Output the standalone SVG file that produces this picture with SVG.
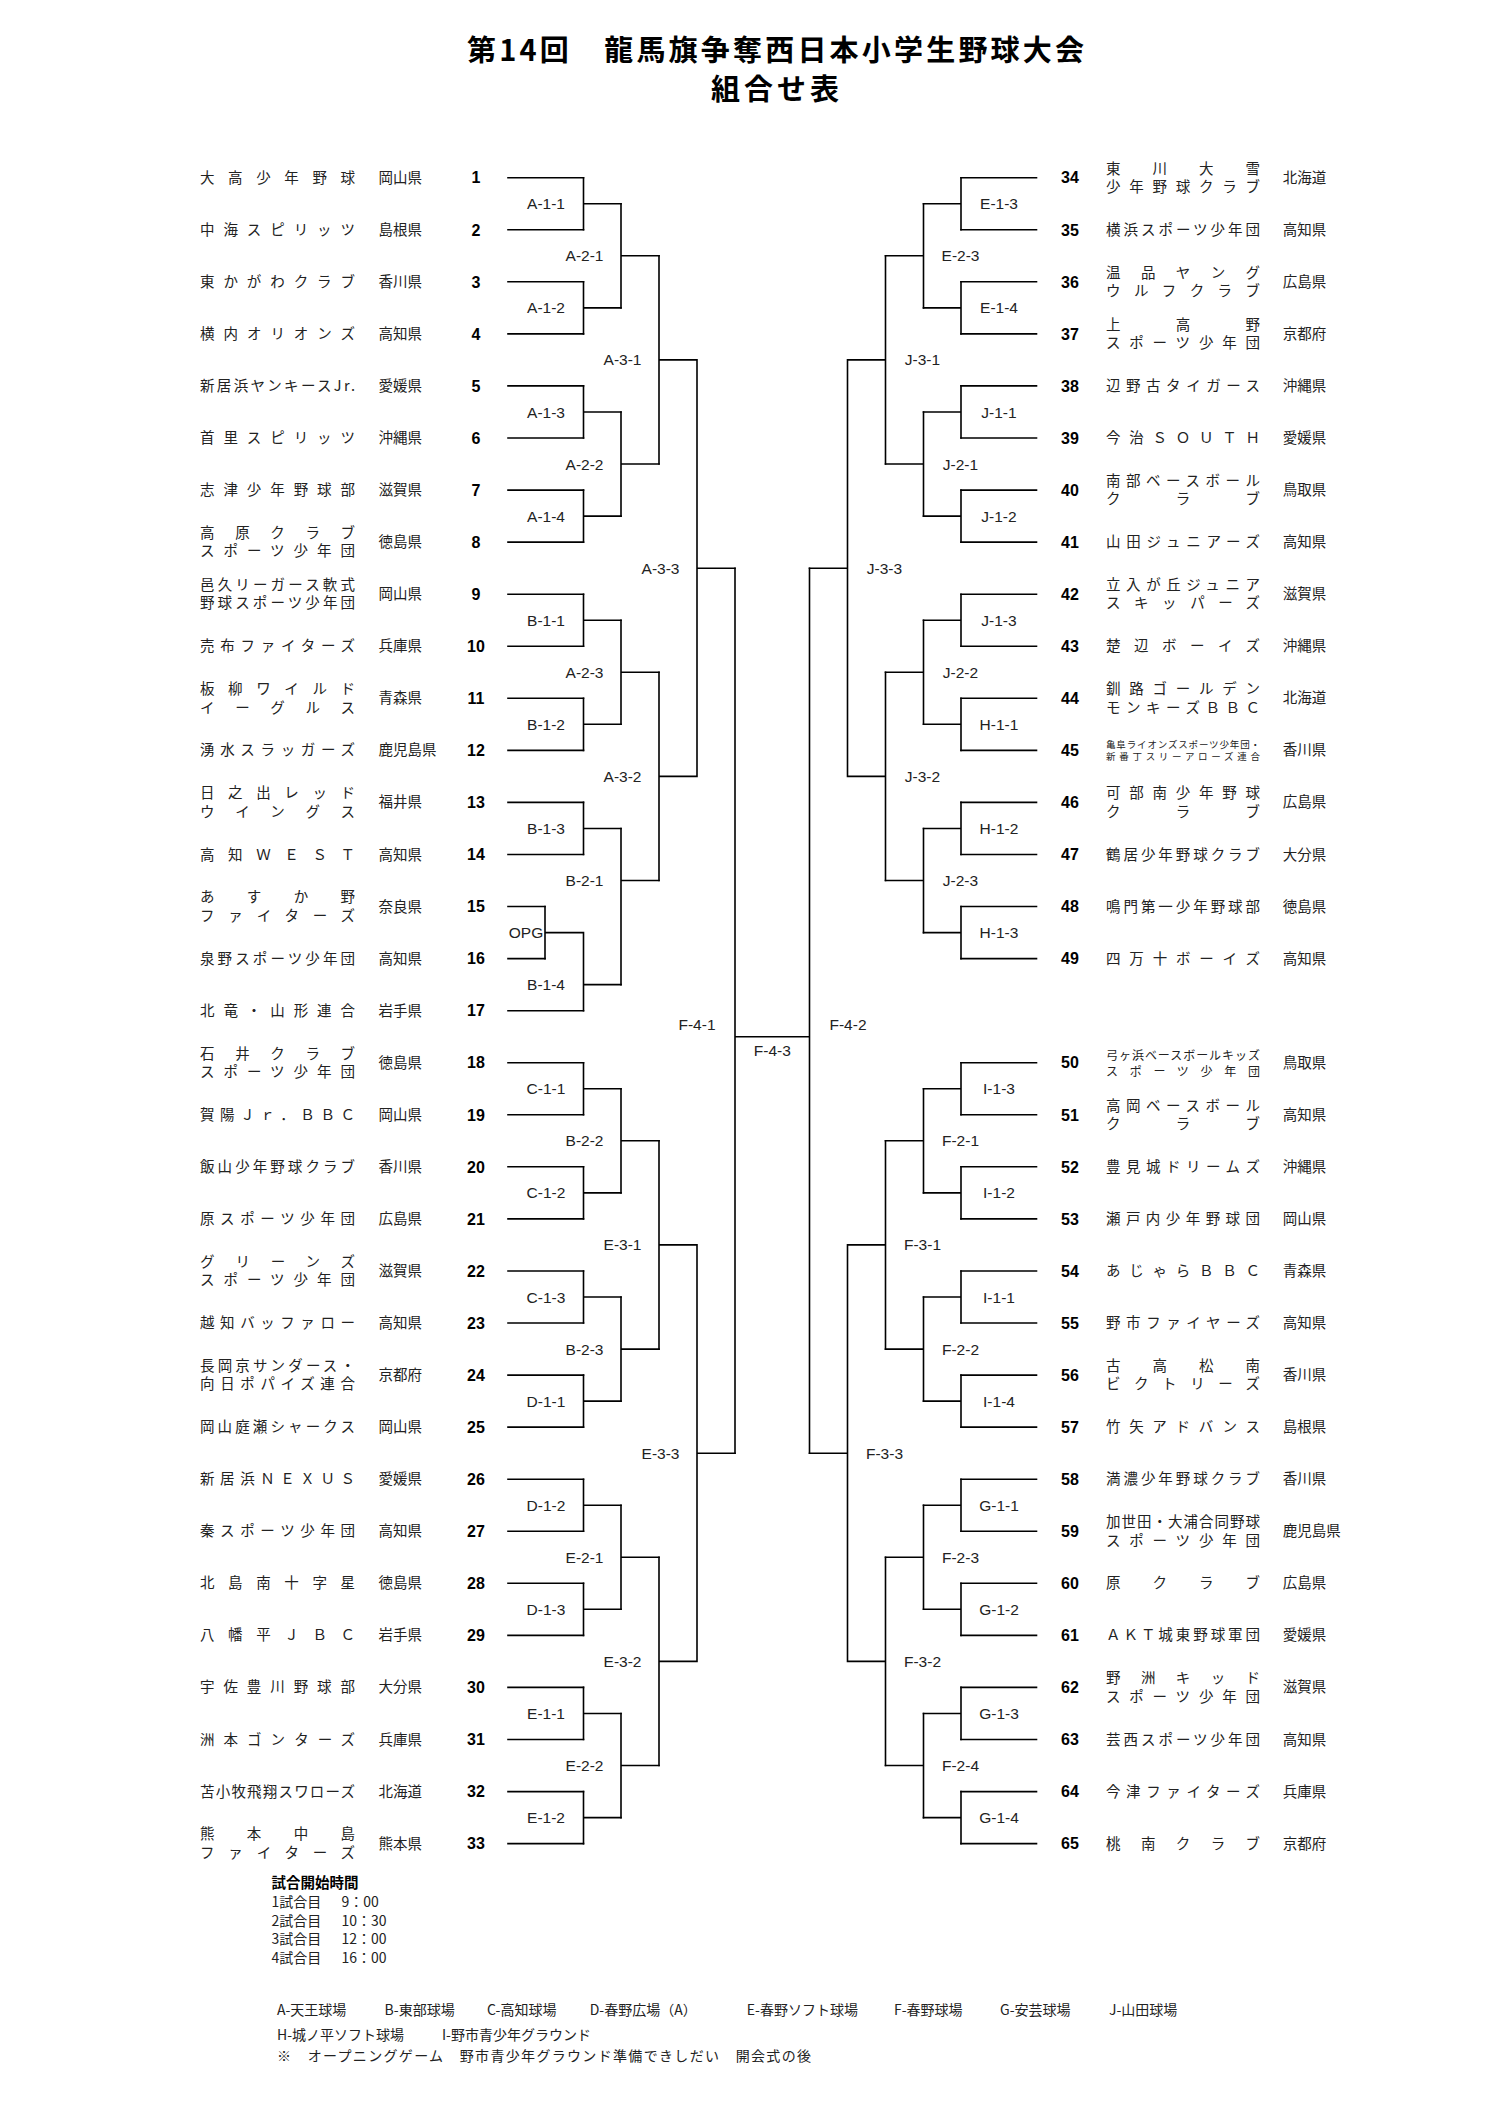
<svg xmlns="http://www.w3.org/2000/svg" width="1497" height="2117" viewBox="0 0 1497 2117">
<style>
.bg{fill:#fff}
.ln{fill:none;stroke:#000;stroke-width:1.6;stroke-linecap:square}
.tt{font-family:"Noto Sans CJK JP",sans-serif;font-weight:bold;font-size:29px;fill:#000}
.nm{font-family:"Noto Sans CJK JP",sans-serif;font-size:14.5px;fill:#222}
.sm{font-family:"Noto Sans CJK JP",sans-serif;font-size:9.5px;fill:#222}
.md{font-family:"Noto Sans CJK JP",sans-serif;font-size:12px;fill:#222}
.pf{font-family:"Noto Sans CJK JP",sans-serif;font-size:14.5px;fill:#222}
.no{font-family:"Liberation Sans",sans-serif;font-weight:bold;font-size:16px;fill:#000;text-anchor:middle}
.lb{font-family:"Liberation Sans",sans-serif;font-size:15.5px;fill:#222;text-anchor:middle}
.ft{font-family:"Noto Sans CJK JP",sans-serif;font-size:14px;fill:#222}
.fb{font-family:"Noto Sans CJK JP",sans-serif;font-size:14.5px;font-weight:bold;fill:#000}
</style>
<rect class="bg" x="0" y="0" width="1497" height="2117"/>
<g id="title">
<text class="tt" x="467" y="61" textLength="617" lengthAdjust="spacing">第14回　龍馬旗争奪西日本小学生野球大会</text>
<text class="tt" x="711" y="100" textLength="128" lengthAdjust="spacing">組合せ表</text>
</g>
<g id="connectors">
<path class="ln" d="M508 177.7H583.5M508 229.8H583.5M508 281.8H583.5M508 333.9H583.5M508 385.9H583.5M508 438H583.5M508 490.1H583.5M508 542.1H583.5M508 594.2H583.5M508 646.2H583.5M508 698.3H583.5M508 750.4H583.5M508 802.4H583.5M508 854.5H583.5M508 906.5H545M508 958.6H545M508 1010.7H583.5M508 1062.7H583.5M508 1114.8H583.5M508 1166.8H583.5M508 1218.9H583.5M508 1271H583.5M508 1323H583.5M508 1375.1H583.5M508 1427.1H583.5M508 1479.2H583.5M508 1531.3H583.5M508 1583.3H583.5M508 1635.4H583.5M508 1687.4H583.5M508 1739.5H583.5M508 1791.6H583.5M508 1843.6H583.5"/>
<path class="ln" d="M583.5 177.7V229.8M583.5 203.7H621M583.5 281.8V333.9M583.5 307.9H621M583.5 385.9V438M583.5 412H621M583.5 490.1V542.1M583.5 516.1H621M583.5 594.2V646.2M583.5 620.2H621M583.5 698.3V750.4M583.5 724.3H621M583.5 802.4V854.5M583.5 828.5H621M545 906.5V958.6M545 932.6H583.5M583.5 932.6V1010.7M583.5 984.6H621M583.5 1062.7V1114.8M583.5 1088.8H621M583.5 1166.8V1218.9M583.5 1192.9H621M583.5 1271V1323M583.5 1297H621M583.5 1375.1V1427.1M583.5 1401.1H621M583.5 1479.2V1531.3M583.5 1505.2H621M583.5 1583.3V1635.4M583.5 1609.3H621M583.5 1687.4V1739.5M583.5 1713.5H621M583.5 1791.6V1843.6M583.5 1817.6H621"/>
<path class="ln" d="M621 203.7V307.9M621 255.8H659M621 412V516.1M621 464H659M621 620.2V724.3M621 672.3H659M621 828.5V984.6M621 880.5H659M621 1088.8V1192.9M621 1140.8H659M621 1297V1401.1M621 1349.1H659M621 1505.2V1609.3M621 1557.3H659M621 1713.5V1817.6M621 1765.5H659"/>
<path class="ln" d="M659 255.8V464M659 359.9H697M659 672.3V880.5M659 776.4H697M659 1140.8V1349.1M659 1244.9H697M659 1557.3V1765.5M659 1661.4H697M697 359.9V776.4M697 568.2H735M697 1244.9V1661.4M697 1453.2H735"/>
<path class="ln" d="M735 568.2V1453.2M735 1036.7H809.5M809.5 568.2V1453.2"/>
<path class="ln" d="M961 177.7H1036.5M961 229.8H1036.5M961 281.8H1036.5M961 333.9H1036.5M961 385.9H1036.5M961 438H1036.5M961 490.1H1036.5M961 542.1H1036.5M961 594.2H1036.5M961 646.2H1036.5M961 698.3H1036.5M961 750.4H1036.5M961 802.4H1036.5M961 854.5H1036.5M961 906.5H1036.5M961 958.6H1036.5M961 1062.7H1036.5M961 1114.8H1036.5M961 1166.8H1036.5M961 1218.9H1036.5M961 1271H1036.5M961 1323H1036.5M961 1375.1H1036.5M961 1427.1H1036.5M961 1479.2H1036.5M961 1531.3H1036.5M961 1583.3H1036.5M961 1635.4H1036.5M961 1687.4H1036.5M961 1739.5H1036.5M961 1791.6H1036.5M961 1843.6H1036.5"/>
<path class="ln" d="M961 177.7V229.8M961 203.7H923.5M961 281.8V333.9M961 307.9H923.5M961 385.9V438M961 412H923.5M961 490.1V542.1M961 516.1H923.5M961 594.2V646.2M961 620.2H923.5M961 698.3V750.4M961 724.3H923.5M961 802.4V854.5M961 828.5H923.5M961 906.5V958.6M961 932.6H923.5M961 1062.7V1114.8M961 1088.8H923.5M961 1166.8V1218.9M961 1192.9H923.5M961 1271V1323M961 1297H923.5M961 1375.1V1427.1M961 1401.1H923.5M961 1479.2V1531.3M961 1505.2H923.5M961 1583.3V1635.4M961 1609.3H923.5M961 1687.4V1739.5M961 1713.5H923.5M961 1791.6V1843.6M961 1817.6H923.5"/>
<path class="ln" d="M923.5 203.7V307.9M923.5 255.8H885.5M923.5 412V516.1M923.5 464H885.5M923.5 620.2V724.3M923.5 672.3H885.5M923.5 828.5V932.6M923.5 880.5H885.5M923.5 1088.8V1192.9M923.5 1140.8H885.5M923.5 1297V1401.1M923.5 1349.1H885.5M923.5 1505.2V1609.3M923.5 1557.3H885.5M923.5 1713.5V1817.6M923.5 1765.5H885.5"/>
<path class="ln" d="M885.5 255.8V464M885.5 359.9H847.5M885.5 672.3V880.5M885.5 776.4H847.5M885.5 1140.8V1349.1M885.5 1244.9H847.5M885.5 1557.3V1765.5M885.5 1661.4H847.5M847.5 359.9V776.4M847.5 568.2H809.5M847.5 1244.9V1661.4M847.5 1453.2H809.5"/>
</g>
<g id="match-labels">
<text class="lb" x="546" y="209.2">A-1-1</text>
<text class="lb" x="546" y="313.4">A-1-2</text>
<text class="lb" x="546" y="417.5">A-1-3</text>
<text class="lb" x="546" y="521.6">A-1-4</text>
<text class="lb" x="546" y="625.7">B-1-1</text>
<text class="lb" x="546" y="729.8">B-1-2</text>
<text class="lb" x="546" y="834">B-1-3</text>
<text class="lb" x="526" y="938.1">OPG</text>
<text class="lb" x="546" y="990.1">B-1-4</text>
<text class="lb" x="546" y="1094.3">C-1-1</text>
<text class="lb" x="546" y="1198.4">C-1-2</text>
<text class="lb" x="546" y="1302.5">C-1-3</text>
<text class="lb" x="546" y="1406.6">D-1-1</text>
<text class="lb" x="546" y="1510.7">D-1-2</text>
<text class="lb" x="546" y="1614.8">D-1-3</text>
<text class="lb" x="546" y="1719">E-1-1</text>
<text class="lb" x="546" y="1823.1">E-1-2</text>
<text class="lb" x="584.5" y="261.3">A-2-1</text>
<text class="lb" x="584.5" y="469.5">A-2-2</text>
<text class="lb" x="584.5" y="677.8">A-2-3</text>
<text class="lb" x="584.5" y="886">B-2-1</text>
<text class="lb" x="584.5" y="1146.3">B-2-2</text>
<text class="lb" x="584.5" y="1354.6">B-2-3</text>
<text class="lb" x="584.5" y="1562.8">E-2-1</text>
<text class="lb" x="584.5" y="1771">E-2-2</text>
<text class="lb" x="622.5" y="365.4">A-3-1</text>
<text class="lb" x="622.5" y="781.9">A-3-2</text>
<text class="lb" x="622.5" y="1250.4">E-3-1</text>
<text class="lb" x="622.5" y="1666.9">E-3-2</text>
<text class="lb" x="660.5" y="573.7">A-3-3</text>
<text class="lb" x="660.5" y="1458.7">E-3-3</text>
<text class="lb" x="697" y="1029.5">F-4-1</text>
<text class="lb" x="772.3" y="1055.5">F-4-3</text>
<text class="lb" x="848" y="1029.5">F-4-2</text>
<text class="lb" x="884.5" y="573.7">J-3-3</text>
<text class="lb" x="884.5" y="1458.7">F-3-3</text>
<text class="lb" x="922.5" y="365.4">J-3-1</text>
<text class="lb" x="922.5" y="781.9">J-3-2</text>
<text class="lb" x="922.5" y="1250.4">F-3-1</text>
<text class="lb" x="922.5" y="1666.9">F-3-2</text>
<text class="lb" x="960.5" y="261.3">E-2-3</text>
<text class="lb" x="960.5" y="469.5">J-2-1</text>
<text class="lb" x="960.5" y="677.8">J-2-2</text>
<text class="lb" x="960.5" y="886">J-2-3</text>
<text class="lb" x="960.5" y="1146.3">F-2-1</text>
<text class="lb" x="960.5" y="1354.6">F-2-2</text>
<text class="lb" x="960.5" y="1562.8">F-2-3</text>
<text class="lb" x="960.5" y="1771">F-2-4</text>
<text class="lb" x="999" y="209.2">E-1-3</text>
<text class="lb" x="999" y="313.4">E-1-4</text>
<text class="lb" x="999" y="417.5">J-1-1</text>
<text class="lb" x="999" y="521.6">J-1-2</text>
<text class="lb" x="999" y="625.7">J-1-3</text>
<text class="lb" x="999" y="729.8">H-1-1</text>
<text class="lb" x="999" y="834">H-1-2</text>
<text class="lb" x="999" y="938.1">H-1-3</text>
<text class="lb" x="999" y="1094.3">I-1-3</text>
<text class="lb" x="999" y="1198.4">I-1-2</text>
<text class="lb" x="999" y="1302.5">I-1-1</text>
<text class="lb" x="999" y="1406.6">I-1-4</text>
<text class="lb" x="999" y="1510.7">G-1-1</text>
<text class="lb" x="999" y="1614.8">G-1-2</text>
<text class="lb" x="999" y="1719">G-1-3</text>
<text class="lb" x="999" y="1823.1">G-1-4</text>
</g>
<g id="t1"><text class="nm" x="200" y="182.7" textLength="155" lengthAdjust="spacing">大高少年野球</text><text class="pf" x="378.5" y="182.7">岡山県</text><text class="no" x="476" y="183.4">1</text></g>
<g id="t2"><text class="nm" x="200" y="234.8" textLength="155" lengthAdjust="spacing">中海スピリッツ</text><text class="pf" x="378.5" y="234.8">島根県</text><text class="no" x="476" y="235.5">2</text></g>
<g id="t3"><text class="nm" x="200" y="286.8" textLength="155" lengthAdjust="spacing">東かがわクラブ</text><text class="pf" x="378.5" y="286.8">香川県</text><text class="no" x="476" y="287.5">3</text></g>
<g id="t4"><text class="nm" x="200" y="338.9" textLength="155" lengthAdjust="spacing">横内オリオンズ</text><text class="pf" x="378.5" y="338.9">高知県</text><text class="no" x="476" y="339.6">4</text></g>
<g id="t5"><text class="nm" x="200" y="390.9" textLength="155" lengthAdjust="spacing">新居浜ヤンキースJr.</text><text class="pf" x="378.5" y="390.9">愛媛県</text><text class="no" x="476" y="391.6">5</text></g>
<g id="t6"><text class="nm" x="200" y="443" textLength="155" lengthAdjust="spacing">首里スピリッツ</text><text class="pf" x="378.5" y="443">沖縄県</text><text class="no" x="476" y="443.7">6</text></g>
<g id="t7"><text class="nm" x="200" y="495.1" textLength="155" lengthAdjust="spacing">志津少年野球部</text><text class="pf" x="378.5" y="495.1">滋賀県</text><text class="no" x="476" y="495.8">7</text></g>
<g id="t8"><text class="nm" x="200" y="537.9" textLength="155" lengthAdjust="spacing">高原クラブ</text><text class="nm" x="200" y="556.3" textLength="155" lengthAdjust="spacing">スポーツ少年団</text><text class="pf" x="378.5" y="547.1">徳島県</text><text class="no" x="476" y="547.8">8</text></g>
<g id="t9"><text class="nm" x="200" y="590" textLength="155" lengthAdjust="spacing">邑久リーガース軟式</text><text class="nm" x="200" y="608.4" textLength="155" lengthAdjust="spacing">野球スポーツ少年団</text><text class="pf" x="378.5" y="599.2">岡山県</text><text class="no" x="476" y="599.9">9</text></g>
<g id="t10"><text class="nm" x="200" y="651.2" textLength="155" lengthAdjust="spacing">売布ファイターズ</text><text class="pf" x="378.5" y="651.2">兵庫県</text><text class="no" x="476" y="651.9">10</text></g>
<g id="t11"><text class="nm" x="200" y="694.1" textLength="155" lengthAdjust="spacing">板柳ワイルド</text><text class="nm" x="200" y="712.5" textLength="155" lengthAdjust="spacing">イーグルス</text><text class="pf" x="378.5" y="703.3">青森県</text><text class="no" x="476" y="704">11</text></g>
<g id="t12"><text class="nm" x="200" y="755.4" textLength="155" lengthAdjust="spacing">湧水スラッガーズ</text><text class="pf" x="378.5" y="755.4">鹿児島県</text><text class="no" x="476" y="756.1">12</text></g>
<g id="t13"><text class="nm" x="200" y="798.2" textLength="155" lengthAdjust="spacing">日之出レッド</text><text class="nm" x="200" y="816.6" textLength="155" lengthAdjust="spacing">ウイングス</text><text class="pf" x="378.5" y="807.4">福井県</text><text class="no" x="476" y="808.1">13</text></g>
<g id="t14"><text class="nm" x="200" y="859.5" textLength="155" lengthAdjust="spacing">高知ＷＥＳＴ</text><text class="pf" x="378.5" y="859.5">高知県</text><text class="no" x="476" y="860.2">14</text></g>
<g id="t15"><text class="nm" x="200" y="902.3" textLength="155" lengthAdjust="spacing">あすか野</text><text class="nm" x="200" y="920.7" textLength="155" lengthAdjust="spacing">ファイターズ</text><text class="pf" x="378.5" y="911.5">奈良県</text><text class="no" x="476" y="912.2">15</text></g>
<g id="t16"><text class="nm" x="200" y="963.6" textLength="155" lengthAdjust="spacing">泉野スポーツ少年団</text><text class="pf" x="378.5" y="963.6">高知県</text><text class="no" x="476" y="964.3">16</text></g>
<g id="t17"><text class="nm" x="200" y="1015.7" textLength="155" lengthAdjust="spacing">北竜・山形連合</text><text class="pf" x="378.5" y="1015.7">岩手県</text><text class="no" x="476" y="1016.4">17</text></g>
<g id="t18"><text class="nm" x="200" y="1058.5" textLength="155" lengthAdjust="spacing">石井クラブ</text><text class="nm" x="200" y="1076.9" textLength="155" lengthAdjust="spacing">スポーツ少年団</text><text class="pf" x="378.5" y="1067.7">徳島県</text><text class="no" x="476" y="1068.4">18</text></g>
<g id="t19"><text class="nm" x="200" y="1119.8" textLength="155" lengthAdjust="spacing">賀陽Ｊｒ．ＢＢＣ</text><text class="pf" x="378.5" y="1119.8">岡山県</text><text class="no" x="476" y="1120.5">19</text></g>
<g id="t20"><text class="nm" x="200" y="1171.8" textLength="155" lengthAdjust="spacing">飯山少年野球クラブ</text><text class="pf" x="378.5" y="1171.8">香川県</text><text class="no" x="476" y="1172.5">20</text></g>
<g id="t21"><text class="nm" x="200" y="1223.9" textLength="155" lengthAdjust="spacing">原スポーツ少年団</text><text class="pf" x="378.5" y="1223.9">広島県</text><text class="no" x="476" y="1224.6">21</text></g>
<g id="t22"><text class="nm" x="200" y="1266.8" textLength="155" lengthAdjust="spacing">グリーンズ</text><text class="nm" x="200" y="1285.2" textLength="155" lengthAdjust="spacing">スポーツ少年団</text><text class="pf" x="378.5" y="1276">滋賀県</text><text class="no" x="476" y="1276.7">22</text></g>
<g id="t23"><text class="nm" x="200" y="1328" textLength="155" lengthAdjust="spacing">越知バッファロー</text><text class="pf" x="378.5" y="1328">高知県</text><text class="no" x="476" y="1328.7">23</text></g>
<g id="t24"><text class="nm" x="200" y="1370.9" textLength="155" lengthAdjust="spacing">長岡京サンダース・</text><text class="nm" x="200" y="1389.3" textLength="155" lengthAdjust="spacing">向日ポパイズ連合</text><text class="pf" x="378.5" y="1380.1">京都府</text><text class="no" x="476" y="1380.8">24</text></g>
<g id="t25"><text class="nm" x="200" y="1432.1" textLength="155" lengthAdjust="spacing">岡山庭瀬シャークス</text><text class="pf" x="378.5" y="1432.1">岡山県</text><text class="no" x="476" y="1432.8">25</text></g>
<g id="t26"><text class="nm" x="200" y="1484.2" textLength="155" lengthAdjust="spacing">新居浜ＮＥＸＵＳ</text><text class="pf" x="378.5" y="1484.2">愛媛県</text><text class="no" x="476" y="1484.9">26</text></g>
<g id="t27"><text class="nm" x="200" y="1536.3" textLength="155" lengthAdjust="spacing">秦スポーツ少年団</text><text class="pf" x="378.5" y="1536.3">高知県</text><text class="no" x="476" y="1537">27</text></g>
<g id="t28"><text class="nm" x="200" y="1588.3" textLength="155" lengthAdjust="spacing">北島南十字星</text><text class="pf" x="378.5" y="1588.3">徳島県</text><text class="no" x="476" y="1589">28</text></g>
<g id="t29"><text class="nm" x="200" y="1640.4" textLength="155" lengthAdjust="spacing">八幡平ＪＢＣ</text><text class="pf" x="378.5" y="1640.4">岩手県</text><text class="no" x="476" y="1641.1">29</text></g>
<g id="t30"><text class="nm" x="200" y="1692.4" textLength="155" lengthAdjust="spacing">宇佐豊川野球部</text><text class="pf" x="378.5" y="1692.4">大分県</text><text class="no" x="476" y="1693.1">30</text></g>
<g id="t31"><text class="nm" x="200" y="1744.5" textLength="155" lengthAdjust="spacing">洲本ゴンターズ</text><text class="pf" x="378.5" y="1744.5">兵庫県</text><text class="no" x="476" y="1745.2">31</text></g>
<g id="t32"><text class="nm" x="200" y="1796.6" textLength="155" lengthAdjust="spacing">苫小牧飛翔スワローズ</text><text class="pf" x="378.5" y="1796.6">北海道</text><text class="no" x="476" y="1797.3">32</text></g>
<g id="t33"><text class="nm" x="200" y="1839.4" textLength="155" lengthAdjust="spacing">熊本中島</text><text class="nm" x="200" y="1857.8" textLength="155" lengthAdjust="spacing">ファイターズ</text><text class="pf" x="378.5" y="1848.6">熊本県</text><text class="no" x="476" y="1849.3">33</text></g>
<g id="t34"><text class="no" x="1070" y="183.4">34</text><text class="nm" x="1106" y="173.5" textLength="154" lengthAdjust="spacing">東川大雪</text><text class="nm" x="1106" y="191.9" textLength="154" lengthAdjust="spacing">少年野球クラブ</text><text class="pf" x="1282.7" y="182.7">北海道</text></g>
<g id="t35"><text class="no" x="1070" y="235.5">35</text><text class="nm" x="1106" y="234.8" textLength="154" lengthAdjust="spacing">横浜スポーツ少年団</text><text class="pf" x="1282.7" y="234.8">高知県</text></g>
<g id="t36"><text class="no" x="1070" y="287.5">36</text><text class="nm" x="1106" y="277.6" textLength="154" lengthAdjust="spacing">温品ヤング</text><text class="nm" x="1106" y="296" textLength="154" lengthAdjust="spacing">ウルフクラブ</text><text class="pf" x="1282.7" y="286.8">広島県</text></g>
<g id="t37"><text class="no" x="1070" y="339.6">37</text><text class="nm" x="1106" y="329.7" textLength="154" lengthAdjust="spacing">上高野</text><text class="nm" x="1106" y="348.1" textLength="154" lengthAdjust="spacing">スポーツ少年団</text><text class="pf" x="1282.7" y="338.9">京都府</text></g>
<g id="t38"><text class="no" x="1070" y="391.6">38</text><text class="nm" x="1106" y="390.9" textLength="154" lengthAdjust="spacing">辺野古タイガース</text><text class="pf" x="1282.7" y="390.9">沖縄県</text></g>
<g id="t39"><text class="no" x="1070" y="443.7">39</text><text class="nm" x="1106" y="443" textLength="154" lengthAdjust="spacing">今治ＳＯＵＴＨ</text><text class="pf" x="1282.7" y="443">愛媛県</text></g>
<g id="t40"><text class="no" x="1070" y="495.8">40</text><text class="nm" x="1106" y="485.9" textLength="154" lengthAdjust="spacing">南部ベースボール</text><text class="nm" x="1106" y="504.3" textLength="154" lengthAdjust="spacing">クラブ</text><text class="pf" x="1282.7" y="495.1">鳥取県</text></g>
<g id="t41"><text class="no" x="1070" y="547.8">41</text><text class="nm" x="1106" y="547.1" textLength="154" lengthAdjust="spacing">山田ジュニアーズ</text><text class="pf" x="1282.7" y="547.1">高知県</text></g>
<g id="t42"><text class="no" x="1070" y="599.9">42</text><text class="nm" x="1106" y="590" textLength="154" lengthAdjust="spacing">立入が丘ジュニア</text><text class="nm" x="1106" y="608.4" textLength="154" lengthAdjust="spacing">スキッパーズ</text><text class="pf" x="1282.7" y="599.2">滋賀県</text></g>
<g id="t43"><text class="no" x="1070" y="651.9">43</text><text class="nm" x="1106" y="651.2" textLength="154" lengthAdjust="spacing">楚辺ボーイズ</text><text class="pf" x="1282.7" y="651.2">沖縄県</text></g>
<g id="t44"><text class="no" x="1070" y="704">44</text><text class="nm" x="1106" y="694.1" textLength="154" lengthAdjust="spacing">釧路ゴールデン</text><text class="nm" x="1106" y="712.5" textLength="154" lengthAdjust="spacing">モンキーズＢＢＣ</text><text class="pf" x="1282.7" y="703.3">北海道</text></g>
<g id="t45"><text class="no" x="1070" y="756.1">45</text><text class="sm" x="1106" y="747.6" textLength="154" lengthAdjust="spacing">亀阜ライオンズスポーツ少年団・</text><text class="sm" x="1106" y="760" textLength="154" lengthAdjust="spacing">新番丁スリーアローズ連合</text><text class="pf" x="1282.7" y="755.4">香川県</text></g>
<g id="t46"><text class="no" x="1070" y="808.1">46</text><text class="nm" x="1106" y="798.2" textLength="154" lengthAdjust="spacing">可部南少年野球</text><text class="nm" x="1106" y="816.6" textLength="154" lengthAdjust="spacing">クラブ</text><text class="pf" x="1282.7" y="807.4">広島県</text></g>
<g id="t47"><text class="no" x="1070" y="860.2">47</text><text class="nm" x="1106" y="859.5" textLength="154" lengthAdjust="spacing">鶴居少年野球クラブ</text><text class="pf" x="1282.7" y="859.5">大分県</text></g>
<g id="t48"><text class="no" x="1070" y="912.2">48</text><text class="nm" x="1106" y="911.5" textLength="154" lengthAdjust="spacing">鳴門第一少年野球部</text><text class="pf" x="1282.7" y="911.5">徳島県</text></g>
<g id="t49"><text class="no" x="1070" y="964.3">49</text><text class="nm" x="1106" y="963.6" textLength="154" lengthAdjust="spacing">四万十ボーイズ</text><text class="pf" x="1282.7" y="963.6">高知県</text></g>
<g id="t50"><text class="no" x="1070" y="1068.4">50</text><text class="md" x="1106" y="1060.3" textLength="154" lengthAdjust="spacing">弓ヶ浜ベースボールキッズ</text><text class="md" x="1106" y="1076" textLength="154" lengthAdjust="spacing">スポーツ少年団</text><text class="pf" x="1282.7" y="1067.7">鳥取県</text></g>
<g id="t51"><text class="no" x="1070" y="1120.5">51</text><text class="nm" x="1106" y="1110.6" textLength="154" lengthAdjust="spacing">高岡ベースボール</text><text class="nm" x="1106" y="1129" textLength="154" lengthAdjust="spacing">クラブ</text><text class="pf" x="1282.7" y="1119.8">高知県</text></g>
<g id="t52"><text class="no" x="1070" y="1172.5">52</text><text class="nm" x="1106" y="1171.8" textLength="154" lengthAdjust="spacing">豊見城ドリームズ</text><text class="pf" x="1282.7" y="1171.8">沖縄県</text></g>
<g id="t53"><text class="no" x="1070" y="1224.6">53</text><text class="nm" x="1106" y="1223.9" textLength="154" lengthAdjust="spacing">瀬戸内少年野球団</text><text class="pf" x="1282.7" y="1223.9">岡山県</text></g>
<g id="t54"><text class="no" x="1070" y="1276.7">54</text><text class="nm" x="1106" y="1276" textLength="154" lengthAdjust="spacing">あじゃらＢＢＣ</text><text class="pf" x="1282.7" y="1276">青森県</text></g>
<g id="t55"><text class="no" x="1070" y="1328.7">55</text><text class="nm" x="1106" y="1328" textLength="154" lengthAdjust="spacing">野市ファイヤーズ</text><text class="pf" x="1282.7" y="1328">高知県</text></g>
<g id="t56"><text class="no" x="1070" y="1380.8">56</text><text class="nm" x="1106" y="1370.9" textLength="154" lengthAdjust="spacing">古高松南</text><text class="nm" x="1106" y="1389.3" textLength="154" lengthAdjust="spacing">ビクトリーズ</text><text class="pf" x="1282.7" y="1380.1">香川県</text></g>
<g id="t57"><text class="no" x="1070" y="1432.8">57</text><text class="nm" x="1106" y="1432.1" textLength="154" lengthAdjust="spacing">竹矢アドバンス</text><text class="pf" x="1282.7" y="1432.1">島根県</text></g>
<g id="t58"><text class="no" x="1070" y="1484.9">58</text><text class="nm" x="1106" y="1484.2" textLength="154" lengthAdjust="spacing">満濃少年野球クラブ</text><text class="pf" x="1282.7" y="1484.2">香川県</text></g>
<g id="t59"><text class="no" x="1070" y="1537">59</text><text class="nm" x="1106" y="1527.1" textLength="154" lengthAdjust="spacing">加世田・大浦合同野球</text><text class="nm" x="1106" y="1545.5" textLength="154" lengthAdjust="spacing">スポーツ少年団</text><text class="pf" x="1282.7" y="1536.3">鹿児島県</text></g>
<g id="t60"><text class="no" x="1070" y="1589">60</text><text class="nm" x="1106" y="1588.3" textLength="154" lengthAdjust="spacing">原クラブ</text><text class="pf" x="1282.7" y="1588.3">広島県</text></g>
<g id="t61"><text class="no" x="1070" y="1641.1">61</text><text class="nm" x="1106" y="1640.4" textLength="154" lengthAdjust="spacing">ＡＫＴ城東野球軍団</text><text class="pf" x="1282.7" y="1640.4">愛媛県</text></g>
<g id="t62"><text class="no" x="1070" y="1693.1">62</text><text class="nm" x="1106" y="1683.2" textLength="154" lengthAdjust="spacing">野洲キッド</text><text class="nm" x="1106" y="1701.6" textLength="154" lengthAdjust="spacing">スポーツ少年団</text><text class="pf" x="1282.7" y="1692.4">滋賀県</text></g>
<g id="t63"><text class="no" x="1070" y="1745.2">63</text><text class="nm" x="1106" y="1744.5" textLength="154" lengthAdjust="spacing">芸西スポーツ少年団</text><text class="pf" x="1282.7" y="1744.5">高知県</text></g>
<g id="t64"><text class="no" x="1070" y="1797.3">64</text><text class="nm" x="1106" y="1796.6" textLength="154" lengthAdjust="spacing">今津ファイターズ</text><text class="pf" x="1282.7" y="1796.6">兵庫県</text></g>
<g id="t65"><text class="no" x="1070" y="1849.3">65</text><text class="nm" x="1106" y="1848.6" textLength="154" lengthAdjust="spacing">桃南クラブ</text><text class="pf" x="1282.7" y="1848.6">京都府</text></g>
<g id="times">
<text class="fb" x="271.5" y="1888">試合開始時間</text>
<text class="ft" x="271.5" y="1907">1試合目</text><text class="ft" x="341.5" y="1907">9：00</text>
<text class="ft" x="271.5" y="1925.5">2試合目</text><text class="ft" x="341.5" y="1925.5">10：30</text>
<text class="ft" x="271.5" y="1944">3試合目</text><text class="ft" x="341.5" y="1944">12：00</text>
<text class="ft" x="271.5" y="1962.5">4試合目</text><text class="ft" x="341.5" y="1962.5">16：00</text>
</g>
<g id="venues">
<text class="ft" x="277" y="2015">A-天王球場</text>
<text class="ft" x="384.6" y="2015">B-東部球場</text>
<text class="ft" x="487" y="2015">C-高知球場</text>
<text class="ft" x="589.7" y="2015">D-春野広場（A）</text>
<text class="ft" x="746.8" y="2015">E-春野ソフト球場</text>
<text class="ft" x="894" y="2015">F-春野球場</text>
<text class="ft" x="1000" y="2015">G-安芸球場</text>
<text class="ft" x="1109" y="2015">J-山田球場</text>
<text class="ft" x="277" y="2040">H-城ノ平ソフト球場</text>
<text class="ft" x="442" y="2040">I-野市青少年グラウンド</text>
<text class="ft" x="277" y="2061" textLength="534" lengthAdjust="spacing">※　オープニングゲーム　野市青少年グラウンド準備できしだい　開会式の後</text>
</g>
</svg>
